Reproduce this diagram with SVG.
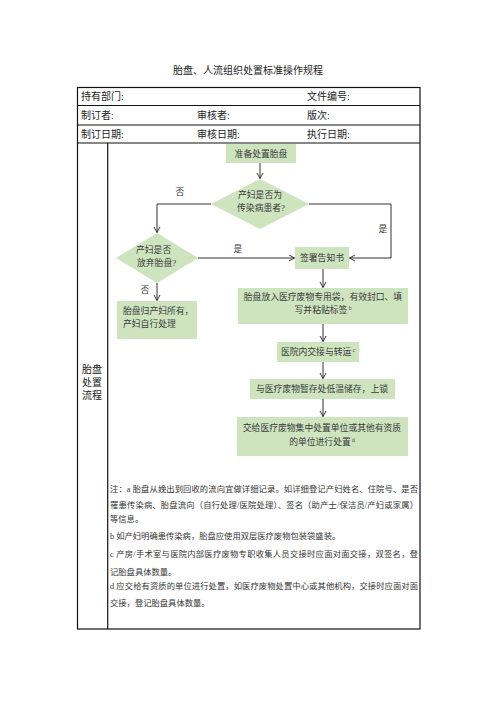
<svg xmlns="http://www.w3.org/2000/svg" width="496" height="702" viewBox="0 0 496 702">
<style>
text{font-family:"Liberation Serif","Noto Sans CJK SC",serif;fill:#222}
.t{font-size:10px}
.f{font-size:8.8px;fill:#3a3a3a}
.n{font-size:8.3px;fill:#333}
.box{fill:#cde4bf;stroke:none}
.ln{fill:none;stroke:#333;stroke-width:1}
.tb{fill:none;stroke:#111;stroke-width:1.2}
.c{text-anchor:middle}
.sup{font-size:5.5px}
</style>
<defs>
<marker id="ah" markerWidth="8" markerHeight="8" refX="6" refY="3.5" orient="auto" markerUnits="userSpaceOnUse">
<path d="M0.5,0.5 L6,3.5 L0.5,6.5" fill="none" stroke="#333" stroke-width="1"/>
</marker>
</defs>
<rect width="496" height="702" fill="#fff"/>
<text class="t c" x="248" y="74">胎盘、人流组织处置标准操作规程</text>
<g id="table">
<rect class="tb" x="77.5" y="87.5" width="342.5" height="541.5"/>
<line class="tb" x1="77.5" y1="105.5" x2="420" y2="105.5"/>
<line class="tb" x1="77.5" y1="125" x2="420" y2="125"/>
<line class="tb" x1="77.5" y1="143" x2="420" y2="143"/>
<line class="tb" x1="107.7" y1="143" x2="107.7" y2="629"/>
<text class="t" x="81" y="100">持有部门:</text>
<text class="t" x="307" y="100">文件编号:</text>
<text class="t" x="81" y="119">制订者:</text>
<text class="t" x="197" y="119">审核者:</text>
<text class="t" x="307" y="119">版次:</text>
<text class="t" x="81" y="138">制订日期:</text>
<text class="t" x="197" y="138">审核日期:</text>
<text class="t" x="307" y="138">执行日期:</text>
<text class="t c" x="92" y="373">胎盘</text>
<text class="t c" x="92" y="386">处置</text>
<text class="t c" x="92" y="399">流程</text>
</g>
<g id="connectors">
<line class="ln" x1="260" y1="163" x2="260" y2="178.5" marker-end="url(#ah)"/>
<polyline class="ln" points="211,204 157,204 157,232.5" marker-end="url(#ah)"/>
<polyline class="ln" points="309,204 391,204 391,258 349.5,258" marker-end="url(#ah)"/>
<line class="ln" x1="198" y1="258" x2="294.5" y2="258" marker-end="url(#ah)"/>
<line class="ln" x1="157" y1="283" x2="157" y2="300.5" marker-end="url(#ah)"/>
<line class="ln" x1="323" y1="269" x2="323" y2="287.5" marker-end="url(#ah)"/>
<line class="ln" x1="323" y1="324" x2="323" y2="341.5" marker-end="url(#ah)"/>
<line class="ln" x1="323" y1="362" x2="323" y2="378.5" marker-end="url(#ah)"/>
<line class="ln" x1="323" y1="399" x2="323" y2="416.5" marker-end="url(#ah)"/>
<text class="f c" x="180" y="195">否</text>
<text class="f c" x="383" y="232">是</text>
<text class="f c" x="238" y="252">是</text>
<text class="f c" x="145" y="293">否</text>
</g>
<g id="start">
<rect class="box" x="226" y="144" width="70" height="19"/>
<text class="f c" x="261" y="156.5">准备处置胎盘</text>
</g>
<g id="d1">
<polygon class="box" points="260,179 309,204 260,229 211,204"/>
<text class="f c" x="260" y="198">产妇是否为</text>
<text class="f c" x="261" y="211">传染病患者?</text>
</g>
<g id="d2">
<polygon class="box" points="157,233 198,258 157,283 116,258"/>
<text class="f" x="136" y="253">产妇是否</text>
<text class="f" x="137" y="266">放弃胎盘?</text>
</g>
<g id="sign">
<rect class="box" x="295" y="247" width="54" height="22"/>
<text class="f c" x="322" y="261">签署告知书</text>
</g>
<g id="bag">
<rect class="box" x="238" y="288" width="170" height="36"/>
<text class="f c" x="323" y="300">胎盘放入医疗废物专用袋，有效封口、填</text>
<text class="f c" x="323" y="313">写并粘贴标签<tspan class="sup" dy="-3"> b</tspan></text>
</g>
<g id="transfer">
<rect class="box" x="277" y="342" width="82" height="20"/>
<text class="f c" x="318" y="355">医院内交接与转运<tspan class="sup" dy="-3"> c</tspan></text>
</g>
<g id="store">
<rect class="box" x="250" y="379" width="145" height="20"/>
<text class="f c" x="322" y="392">与医疗废物暂存处低温储存，上锁</text>
</g>
<g id="handover">
<rect class="box" x="237" y="417" width="171" height="39"/>
<text class="f c" x="322" y="431">交给医疗废物集中处置单位或其他有资质</text>
<text class="f c" x="322" y="444.5">的单位进行处置<tspan class="sup" dy="-3"> d</tspan></text>
</g>
<g id="self">
<rect class="box" x="117" y="301" width="80" height="38"/>
<text class="f" x="123" y="314">胎盘归产妇所有，</text>
<text class="f" x="123" y="327">产妇自行处理</text>
</g>
<g id="notes">
<text class="n" x="110" y="492" textLength="308" lengthAdjust="spacing">注：a 胎盘从娩出到回收的流向宜做详细记录。如详细登记产妇姓名、住院号、是否</text>
<text class="n" x="110" y="508" textLength="308" lengthAdjust="spacing">罹患传染病、胎盘流向（自行处理/医院处理）、签名（助产士/保洁员/产妇或家属）</text>
<text class="n" x="110" y="522">等信息。</text>
<text class="n" x="110" y="538.5">b 如产妇明确患传染病，胎盘应使用双层医疗废物包装袋盛装。</text>
<text class="n" x="110" y="557" textLength="308" lengthAdjust="spacing">c 产房/手术室与医院内部医疗废物专职收集人员交接时应面对面交接，双签名，登</text>
<text class="n" x="110" y="574.5">记胎盘具体数量。</text>
<text class="n" x="110" y="589" textLength="308" lengthAdjust="spacing">d 应交给有资质的单位进行处置，如医疗废物处置中心或其他机构，交接时应面对面</text>
<text class="n" x="110" y="605.5">交接，登记胎盘具体数量。</text>
</g>
</svg>
